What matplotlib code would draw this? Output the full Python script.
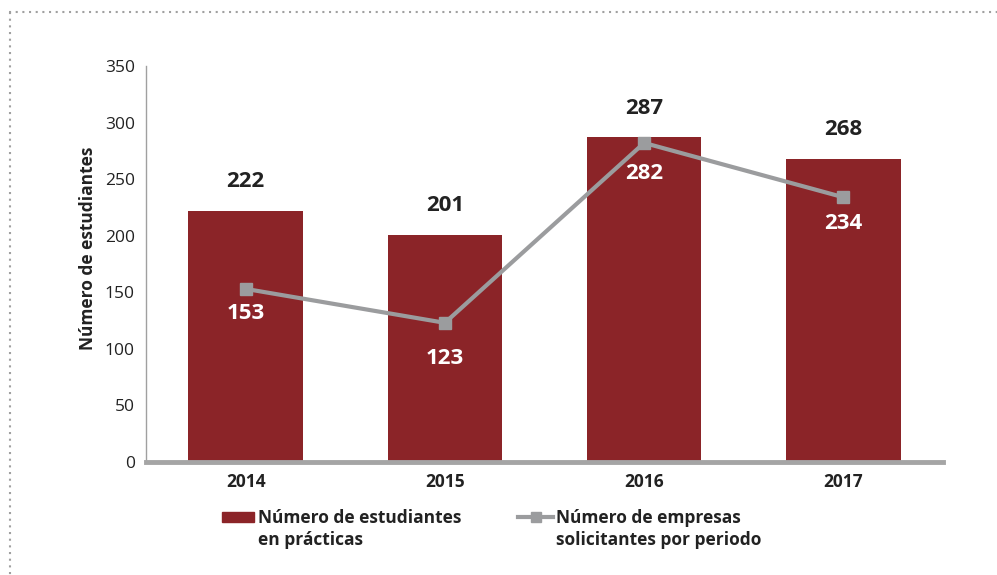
import matplotlib
matplotlib.use("Agg")
import matplotlib.pyplot as plt
from matplotlib.lines import Line2D
from matplotlib.patches import Rectangle

plt.rcParams['font.family'] = ['Open Sans', 'DejaVu Sans']

years = ['2014', '2015', '2016', '2017']
estudiantes = [222, 201, 287, 268]
empresas = [153, 123, 282, 234]
# vertical offset (points) of each white label under its marker
label_dy = [-18, -26, -22, -19]

bar_col = '#8b2428'
line_col = '#9b9c9e'
txt_col = '#222222'

W, H = 997, 575
fig = plt.figure(figsize=(W / 100, H / 100), dpi=100)
ax = fig.add_axes([146 / W, 1 - 462 / H, 797 / W, 396 / H])

x = range(len(years))
ax.bar(x, estudiantes, width=0.575, color=bar_col, zorder=2)
ax.plot(x, empresas, color=line_col, lw=3, marker='s', ms=9, zorder=3)

for i, v in enumerate(estudiantes):
    ax.annotate(str(v), (i, v), xytext=(0, 21), textcoords='offset points',
                ha='center', va='center', fontsize=16, fontweight='bold', color=txt_col)
for i, v in enumerate(empresas):
    ax.annotate(str(v), (i, v), xytext=(0, label_dy[i]), textcoords='offset points',
                ha='center', va='center', fontsize=16, fontweight='bold', color='white', zorder=4)

ax.set_xlim(-0.5, 3.5)
ax.set_ylim(0, 350)
ax.set_yticks(range(0, 351, 50))
ax.set_xticks(list(x))
ax.set_xticklabels(years, fontweight='bold')
ax.tick_params(axis='both', length=0, labelsize=12.5, colors=txt_col)
ax.tick_params(axis='y', pad=8)
ax.tick_params(axis='x', pad=8)
ax.set_ylabel('Número de estudiantes', fontsize=12.5, fontweight='bold', color=txt_col)
ax.yaxis.set_label_coords(-0.0615, 0.54)

for s in ['top', 'right']:
    ax.spines[s].set_visible(False)
ax.spines['left'].set_color('#a0a0a0')
ax.spines['left'].set_linewidth(1)
ax.spines['bottom'].set_color('#a5a5a5')
ax.spines['bottom'].set_linewidth(3.5)


# legend drawn by hand so each key sits beside the first text line
def fx(px):
    return px / W


def fy(py):
    return 1 - py / H


def legend_text(px, label):
    fig.text(fx(px), fy(529), label, ha='left', va='center', fontsize=12.5,
             fontweight='bold', color=txt_col, linespacing=1.22)


fig.add_artist(Rectangle((fx(222), fy(522)), fx(32), 10 / H, transform=fig.transFigure,
                         color=bar_col))
legend_text(258, 'Número de estudiantes\nen prácticas')

fig.add_artist(Line2D([fx(518), fx(553)], [fy(517)] * 2, transform=fig.transFigure,
                      color=line_col, lw=3))
fig.add_artist(Line2D([fx(536)], [fy(517)], transform=fig.transFigure,
                      color=line_col, marker='s', ms=7, lw=0))
legend_text(556, 'Número de empresas\nsolicitantes por periodo')

# dotted frame along top and left
fig.add_artist(Line2D([0.009, 1.0], [fy(12)] * 2, transform=fig.transFigure,
                      color='#a0a0a0', lw=1.5, linestyle=(0, (1, 2.2))))
fig.add_artist(Line2D([fx(10)] * 2, [fy(12), 0], transform=fig.transFigure,
                      color='#a0a0a0', lw=1.5, linestyle=(0, (1, 2.2))))

fig.savefig('out.png', dpi=100)
